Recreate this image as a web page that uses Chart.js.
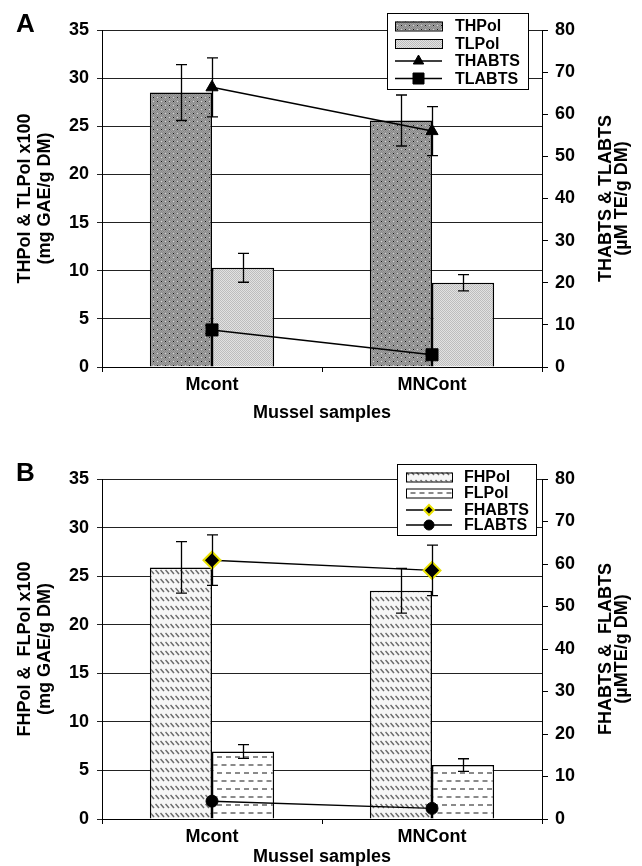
<!DOCTYPE html>
<html>
<head>
<meta charset="utf-8">
<script src="https://cdn.jsdelivr.net/npm/chart.js@4.4.1/dist/chart.umd.min.js"></script>
<style>
html, body { margin: 0; padding: 0; background: #fff; }
.panel { position: absolute; left: 0; width: 642px; height: 433px; }
#pa { top: 0; }
#pb { top: 433px; }
</style>
</head>
<body>
<div class="panel" id="pa"><canvas id="chartA" width="642" height="433"></canvas></div>
<div class="panel" id="pb"><canvas id="chartB" width="642" height="433"></canvas></div>
<script>
// données
const samples = ['Mcont', 'MNCont'];
const leftTicks = [0, 5, 10, 15, 20, 25, 30, 35];
const rightTicks = [0, 10, 20, 30, 40, 50, 60, 70, 80];

// panneau A
const thpol = [28.5, 25.6];
const thpolErr = [2.9, 2.65];
const tlpol = [10.3, 8.75];
const tlpolErr = [1.5, 0.85];
const thabts = [66.4, 56.0];
const thabtsErr = [7.0, 5.8];
const tlabts = [8.8, 2.9];

// panneau B
const fhpol = [25.9, 23.5];
const fhpolErr = [2.65, 2.3];
const flpol = [6.95, 5.55];
const flpolErr = [0.7, 0.65];
const fhabts = [60.9, 58.5];
const fhabtsErr = [5.95, 5.95];
const flabts = [4.2, 2.5];

const FONT = '"Liberation Sans", Arial, Helvetica, sans-serif';
Chart.defaults.font.family = FONT;
Chart.defaults.font.weight = 'bold';
Chart.defaults.font.size = 18;
Chart.defaults.color = '#000';

// motifs de remplissage
function makePattern(w, h, paint) {
    const c = document.createElement('canvas');
    c.width = w; c.height = h;
    const g = c.getContext('2d');
    paint(g);
    return document.createElement('canvas').getContext('2d').createPattern(c, 'repeat');
}

const patDarkDots = makePattern(8, 8, g => {
    g.fillStyle = '#a0a0a0'; g.fillRect(0, 0, 8, 8);
    g.fillStyle = '#888';
    for (let y = 0; y < 8; y++) for (let x = (y % 2); x < 8; x += 2) g.fillRect(x, y, 1, 1);
    g.fillStyle = '#111';
    g.fillRect(1, 1, 1, 1); g.fillRect(5, 5, 1, 1);
    g.fillStyle = '#d0d0d0';
    g.fillRect(5, 1, 1, 1); g.fillRect(1, 5, 1, 1);
});

const patLightDots = makePattern(4, 4, g => {
    g.fillStyle = '#e2e2e2'; g.fillRect(0, 0, 4, 4);
    g.fillStyle = '#bdbdbd';
    for (let y = 0; y < 4; y++) for (let x = (y % 2); x < 4; x += 2) g.fillRect(x, y, 1, 1);
});

const patDiag = makePattern(5, 9, g => {
    g.fillStyle = '#f6f6f6'; g.fillRect(0, 0, 5, 9);
    g.strokeStyle = '#6a6a6a'; g.lineWidth = 1.5;
    g.beginPath(); g.moveTo(0.5, 2); g.lineTo(4, 6); g.stroke();
});

const patDash = makePattern(18, 16, g => {
    g.fillStyle = '#ffffff'; g.fillRect(0, 0, 18, 16);
    g.fillStyle = '#8a8a8a';
    g.fillRect(1, 3, 5, 2); g.fillRect(10, 3, 5, 2);
    g.fillRect(5.5, 11, 5, 2); g.fillRect(14.5, 11, 5, 2); g.fillRect(-3.5, 11, 5, 2);
});

function drawMarker(ctx, style, x, y, r, fill, stroke, lw) {
    ctx.save();
    ctx.beginPath();
    if (style === 'triangle') {
        ctx.moveTo(x, y - r);
        ctx.lineTo(x + r * 0.866, y + r * 0.5);
        ctx.lineTo(x - r * 0.866, y + r * 0.5);
        ctx.closePath();
    } else if (style === 'rect') {
        ctx.rect(x - r, y - r, 2 * r, 2 * r);
    } else if (style === 'rectRot') {
        ctx.moveTo(x, y - r); ctx.lineTo(x + r, y); ctx.lineTo(x, y + r); ctx.lineTo(x - r, y);
        ctx.closePath();
    } else {
        ctx.arc(x, y, r, 0, Math.PI * 2);
    }
    ctx.fillStyle = fill; ctx.fill();
    ctx.lineWidth = lw; ctx.strokeStyle = stroke; ctx.stroke();
    ctx.restore();
}

// barres d'erreur, légende, lettre du panneau, titre de l'axe droit
const decor = {
    id: 'decor',
    afterDatasetsDraw(chart) {
        const ctx = chart.ctx;
        ctx.save();
        ctx.strokeStyle = '#000';
        ctx.lineWidth = 1.3;
        chart.data.datasets.forEach((ds, i) => {
            if (!ds.errors) return;
            const meta = chart.getDatasetMeta(i);
            const ys = chart.scales[meta.yAxisID];
            meta.data.forEach((el, j) => {
                const v = ds.data[j], e = ds.errors[j];
                const x = Math.round(el.x) + 0.5;
                const y1 = ys.getPixelForValue(v + e), y2 = ys.getPixelForValue(v - e);
                ctx.beginPath();
                ctx.moveTo(x, y1); ctx.lineTo(x, y2);
                ctx.moveTo(x - 5.5, y1); ctx.lineTo(x + 5.5, y1);
                ctx.moveTo(x - 5.5, y2); ctx.lineTo(x + 5.5, y2);
                ctx.stroke();
            });
        });
        ctx.restore();
    },
    afterDraw(chart, args, opts) {
        const ctx = chart.ctx;
        const L = opts.legend;
        ctx.save();
        // légende
        ctx.fillStyle = '#fff';
        ctx.fillRect(L.x, L.y, L.w, L.h);
        ctx.strokeStyle = '#000'; ctx.lineWidth = 1;
        ctx.strokeRect(L.x + 0.5, L.y + 0.5, L.w, L.h);
        ctx.font = 'bold 16px ' + FONT;
        ctx.textBaseline = 'middle';
        ctx.textAlign = 'left';
        chart.data.datasets.forEach((ds, i) => {
            const cy = L.rows[i];
            if (ds.type === 'bar') {
                ctx.fillStyle = ds.backgroundColor;
                ctx.fillRect(L.sx, cy - 4.5, L.sw, 9);
                ctx.strokeStyle = '#000'; ctx.lineWidth = 1;
                ctx.strokeRect(L.sx + 0.5, cy - 4.5 + 0.5, L.sw, 9);
            } else {
                ctx.strokeStyle = '#000'; ctx.lineWidth = 1.5;
                ctx.beginPath(); ctx.moveTo(L.sx, cy); ctx.lineTo(L.sx + L.sw, cy); ctx.stroke();
                drawMarker(ctx, ds.pointStyle, L.sx + L.sw / 2, cy, ds.legendRadius,
                    ds.pointBackgroundColor, ds.pointBorderColor, ds.pointBorderWidth);
            }
            ctx.fillStyle = '#000';
            ctx.fillText(ds.label, L.tx, cy + 1);
        });
        // lettre
        ctx.font = 'bold 26px ' + FONT;
        ctx.fillText(opts.letter, 16, opts.letterY);
        // titre de l'axe droit, lu de bas en haut
        const cy = (chart.chartArea.top + chart.chartArea.bottom) / 2;
        ctx.font = 'bold 18px ' + FONT;
        ctx.textAlign = 'center';
        opts.rightTitle.forEach((t, k) => {
            ctx.save();
            ctx.translate(opts.rightTitleX[k], cy);
            ctx.rotate(-Math.PI / 2);
            ctx.fillText(t, 0, 0);
            ctx.restore();
        });
        ctx.restore();
    }
};

function buildOptions(p) {
    return {
        responsive: false,
        animation: false,
        layout: { padding: { top: p.padTop, left: 0, right: 0, bottom: 0 } },
        plugins: {
            legend: { display: false },
            tooltip: { enabled: false },
            decor: p.decor
        },
        scales: {
            x: {
                offset: true,
                grid: { display: true, drawOnChartArea: false, offset: true, tickLength: 5, color: '#000' },
                border: { color: '#000', width: 1 },
                ticks: { padding: 2, font: { size: 18 } },
                title: {
                    display: true, text: 'Mussel samples',
                    font: { size: 18, lineHeight: 1 },
                    padding: { top: 0, bottom: p.xTitlePad }
                },
                afterFit: s => { s.height = p.xHeight; }
            },
            y: {
                position: 'left',
                min: 0, max: 35,
                afterBuildTicks: s => { s.ticks = leftTicks.map(v => ({ value: v })); },
                grid: { color: '#222', tickLength: 5 },
                border: { color: '#000', width: 1 },
                ticks: { padding: 8, font: { size: 18 } },
                title: {
                    display: true, text: p.leftTitle,
                    font: { size: 18, lineHeight: '20px' },
                    padding: { top: 15, bottom: 0 }
                },
                afterFit: s => { s.width = 102; }
            },
            y2: {
                position: 'right',
                min: 0, max: 80,
                afterBuildTicks: s => { s.ticks = rightTicks.map(v => ({ value: v })); },
                grid: { drawOnChartArea: false, color: '#000', tickLength: 6 },
                border: { color: '#000', width: 1 },
                ticks: { padding: 7, font: { size: 18 } },
                afterFit: s => { s.width = 100; }
            }
        }
    };
}

const barStyle = { type: 'bar', yAxisID: 'y', borderColor: '#000', borderWidth: 1.5,
    barPercentage: 1, categoryPercentage: 0.565, order: 2 };
const lineStyle = { type: 'line', yAxisID: 'y2', borderColor: '#000', borderWidth: 1.5,
    fill: false, tension: 0, order: 1, pointBorderColor: '#000', pointBackgroundColor: '#000' };

new Chart(document.getElementById('chartA'), {
    data: {
        labels: samples,
        datasets: [
            { ...barStyle, label: 'THPol', data: thpol, errors: thpolErr, backgroundColor: patDarkDots },
            { ...barStyle, label: 'TLPol', data: tlpol, errors: tlpolErr, backgroundColor: patLightDots },
            { ...lineStyle, label: 'THABTS', data: thabts, errors: thabtsErr,
              pointStyle: 'triangle', pointRadius: 7, pointBorderWidth: 1, legendRadius: 6 },
            { ...lineStyle, label: 'TLABTS', data: tlabts,
              pointStyle: 'rect', pointRadius: 8.5, pointBorderWidth: 1, legendRadius: 5.5 }
        ]
    },
    options: buildOptions({
        padTop: 30, xHeight: 66, xTitlePad: 11,
        leftTitle: ['THPol & TLPol x100', '(mg GAE/g DM)'],
        decor: {
            letter: 'A', letterY: 25,
            rightTitle: ['THABTS & TLABTS', '(\u00B5M TE/g DM)'], rightTitleX: [606, 622],
            legend: { x: 387, y: 13, w: 141, h: 76, sx: 395, sw: 47, tx: 455, rows: [26, 43.5, 61, 78.5] }
        }
    }),
    plugins: [decor]
});

new Chart(document.getElementById('chartB'), {
    data: {
        labels: samples,
        datasets: [
            { ...barStyle, label: 'FHPol', data: fhpol, errors: fhpolErr, backgroundColor: patDiag },
            { ...barStyle, label: 'FLPol', data: flpol, errors: flpolErr, backgroundColor: patDash },
            { ...lineStyle, label: 'FHABTS', data: fhabts, errors: fhabtsErr,
              pointStyle: 'rectRot', pointRadius: 8.5, pointBorderColor: '#e8e000', pointBorderWidth: 2,
              legendRadius: 5 },
            { ...lineStyle, label: 'FLABTS', data: flabts,
              pointStyle: 'circle', pointRadius: 6, pointBorderWidth: 1, legendRadius: 5 }
        ]
    },
    options: buildOptions({
        padTop: 46, xHeight: 47, xTitlePad: 0,
        leftTitle: ['FHPol &  FLPol x100', '(mg GAE/g DM)'],
        decor: {
            letter: 'B', letterY: 41,
            rightTitle: ['FHABTS &  FLABTS', '(\u00B5MTE/g DM)'], rightTitleX: [606, 622],
            legend: { x: 397, y: 31, w: 139, h: 71, sx: 406, sw: 46, tx: 464, rows: [44, 60, 77, 92] }
        }
    }),
    plugins: [decor]
});
</script>
</body>
</html>
